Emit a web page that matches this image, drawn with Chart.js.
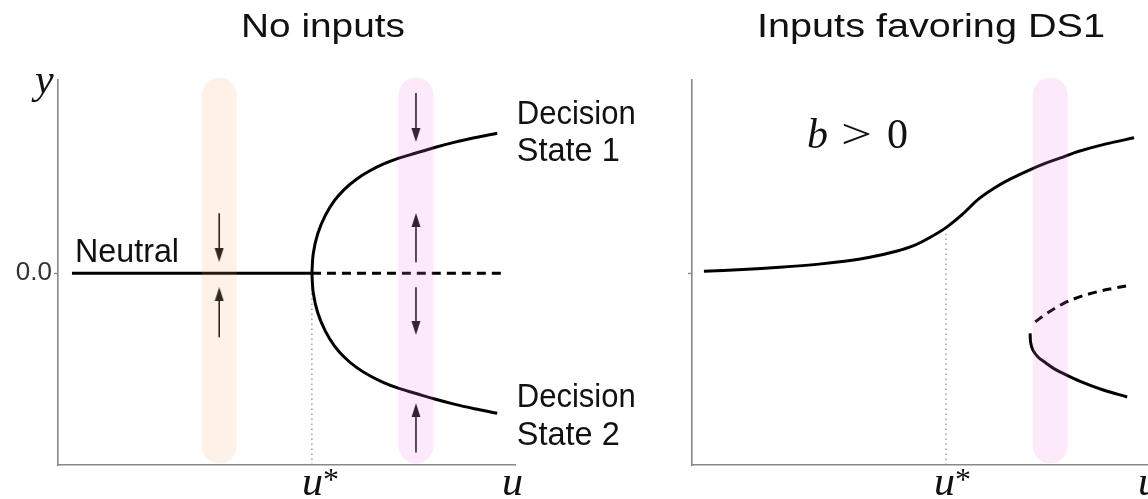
<!DOCTYPE html>
<html>
<head>
<meta charset="utf-8">
<script src="https://cdn.jsdelivr.net/npm/chart.js@4.4.1/dist/chart.umd.min.js"></script>
<style>
  html, body { margin: 0; padding: 0; background: #fff; }
  #wrap { position: relative; width: 1148px; height: 499px; overflow: hidden; }
  canvas { position: absolute; top: 0; }
  #left { left: 0; }
  #right { left: 640px; }
</style>
</head>
<body>
<div id="wrap">
  <canvas id="left" width="640" height="499"></canvas>
  <canvas id="right" width="508" height="499"></canvas>
</div>
<script>
// bifurcation parameter u (u* = 1), decision state y
var U_STAR = 1.0;
var Y_MIN = -1.26, Y_MAX = 1.27;

// no inputs: symmetric pitchfork
var neutralU = [0.055, 1.0];
var neutralY = [0, 0];
var unstableU = [1.0, 1.76];
var unstableY = [0, 0];
var branchU = [1.0, 1.0055, 1.023, 1.053, 1.09, 1.13, 1.177, 1.23, 1.285, 1.34, 1.41, 1.48, 1.56, 1.64, 1.73];
var branchY = [0, 0.13, 0.26, 0.38, 0.48, 0.555, 0.62, 0.675, 0.72, 0.755, 0.79, 0.825, 0.86, 0.89, 0.92];

// inputs favoring DS1: unfolded pitchfork
var ds1U = [0.047, 0.2, 0.345, 0.5, 0.608, 0.7, 0.804, 0.87, 0.933, 1.0, 1.063, 1.13, 1.2, 1.26, 1.33, 1.39, 1.46, 1.52, 1.63, 1.74];
var ds1Y = [0.013, 0.025, 0.04, 0.06, 0.08, 0.105, 0.145, 0.18, 0.232, 0.3, 0.385, 0.49, 0.57, 0.625, 0.68, 0.722, 0.763, 0.8, 0.85, 0.89];
var saddleU = [1.351, 1.397, 1.463, 1.528, 1.594, 1.659, 1.725];
var saddleY = [-0.319, -0.263, -0.198, -0.154, -0.122, -0.099, -0.078];
var ds2U = [1.331, 1.333, 1.342, 1.362, 1.392, 1.423, 1.457, 1.528, 1.619, 1.713];
var ds2Y = [-0.395, -0.455, -0.505, -0.55, -0.588, -0.625, -0.655, -0.71, -0.767, -0.813];

// shaded slices of u
var bandLowU = 0.635;
var bandHighU = 1.41;
var bandY = [-1.135, 1.17];

// flow arrows on each slice: [tail, head]
var arrowsLow = [[0.395, 0.12], [-0.421, -0.137]];
var arrowsHigh = [[1.184, 0.908], [0.072, 0.35], [-0.092, -0.36], [-1.178, -0.9]];

function pts(xs, ys) {
    return xs.map(function(x, i) { return {x: x, y: ys[i]}; });
}

// small filled arrowhead, pointing up
var head = (function() {
    var c = document.createElement('canvas');
    c.width = 10;
    c.height = 14;
    var g = c.getContext('2d');
    g.fillStyle = '#111';
    g.beginPath();
    g.moveTo(5, 0);
    g.lineTo(9.5, 14);
    g.lineTo(0.5, 14);
    g.closePath();
    g.fill();
    return c;
})();

function curve(data, dashed) {
    return {
        data: data,
        borderColor: '#000',
        borderWidth: 3,
        borderDash: dashed ? [9, 6] : [],
        pointRadius: 0,
        tension: 0.35,
        order: 2
    };
}

function band(u, color) {
    return {
        data: pts([u, u], bandY),
        borderColor: color,
        borderWidth: 35,
        borderCapStyle: 'round',
        pointRadius: 0,
        clip: false,
        order: 0
    };
}

function arrow(u, a) {
    var down = a[1] < a[0];
    return {
        data: pts([u, u], a),
        borderColor: '#111',
        borderWidth: 1.6,
        pointStyle: ['circle', head],
        pointRadius: [0, 5],
        pointRotation: down ? 180 : 0,
        order: 1
    };
}

function dotted(yTop) {
    return {
        data: pts([U_STAR, U_STAR], [Y_MIN, yTop]),
        borderColor: '#888',
        borderWidth: 1.2,
        borderDash: [1.5, 3.5],
        pointRadius: 0,
        order: 3
    };
}

function scales(xMax, axisWidth, zeroLabel) {
    return {
        x: {
            type: 'linear', min: 0, max: xMax,
            ticks: {display: false},
            grid: {display: false},
            border: {display: true, color: '#888', width: 1.6},
            afterFit: function(s) { s.height = 34; }
        },
        y: {
            type: 'linear', min: Y_MIN, max: Y_MAX,
            afterBuildTicks: function(s) { s.ticks = [{value: 0}]; },
            ticks: {
                callback: function() { return zeroLabel; },
                font: {family: 'Liberation Sans', size: 26},
                color: '#333',
                padding: 2
            },
            grid: {drawOnChartArea: false, drawTicks: true, tickLength: 4, tickWidth: 1.4, color: '#888'},
            border: {display: true, color: '#888', width: 1.6},
            afterFit: function(s) { s.width = axisWidth; }
        }
    };
}

// sans text squeezed to a given width
function fitText(ctx, text, x, y, size, width) {
    ctx.save();
    ctx.font = size + 'px "Liberation Sans", sans-serif';
    ctx.fillStyle = '#111';
    ctx.textBaseline = 'alphabetic';
    var w = ctx.measureText(text).width;
    ctx.translate(x, y);
    ctx.scale(width / w, 1);
    ctx.fillText(text, 0, 0);
    ctx.restore();
}

function mathItalic(ctx, text, x, y, size) {
    ctx.save();
    ctx.font = 'italic ' + size + 'px "Liberation Serif", serif';
    ctx.fillStyle = '#111';
    ctx.textBaseline = 'alphabetic';
    ctx.fillText(text, x, y);
    var w = ctx.measureText(text).width;
    ctx.restore();
    return w;
}

function mathRoman(ctx, text, x, y, size, width) {
    ctx.save();
    ctx.font = size + 'px "Liberation Serif", serif';
    ctx.fillStyle = '#111';
    var w = ctx.measureText(text).width;
    ctx.translate(x, y);
    if (width) ctx.scale(width / w, 1);
    ctx.fillText(text, 0, 0);
    ctx.restore();
}

function uStarLabel(ctx, x) {
    var w = mathItalic(ctx, 'u', x, 495, 42);
    mathRoman(ctx, '*', x + w, 490, 32);
}

var leftLabels = {
    id: 'leftLabels',
    afterDraw: function(chart) {
        var ctx = chart.ctx, sx = chart.scales.x, sy = chart.scales.y;
        fitText(ctx, 'No inputs', 241, 37, 34, 164);
        fitText(ctx, 'Neutral', sx.getPixelForValue(0.067), sy.getPixelForValue(0.072), 34, 104);
        var lx = sx.getPixelForValue(1.807);
        fitText(ctx, 'Decision', lx, sy.getPixelForValue(0.98), 34, 119);
        fitText(ctx, 'State 1', lx, sy.getPixelForValue(0.737), 34, 103);
        fitText(ctx, 'Decision', lx, sy.getPixelForValue(-0.88), 34, 119);
        fitText(ctx, 'State 2', lx, sy.getPixelForValue(-1.13), 34, 103);
        mathItalic(ctx, 'y', 35, 93, 42);
        uStarLabel(ctx, sx.getPixelForValue(U_STAR) - 10);
        mathItalic(ctx, 'u', chart.chartArea.right - 13, 495, 42);
    }
};

var rightLabels = {
    id: 'rightLabels',
    afterDraw: function(chart) {
        var ctx = chart.ctx, sx = chart.scales.x, sy = chart.scales.y;
        fitText(ctx, 'Inputs favoring DS1', 117, 37, 34, 348);
        var bx = sx.getPixelForValue(0.453), by = sy.getPixelForValue(0.82);
        mathItalic(ctx, 'b', bx, by, 42);
        mathRoman(ctx, '>', bx + 34, by, 42, 31);
        mathRoman(ctx, '0', bx + 80, by, 42);
        uStarLabel(ctx, sx.getPixelForValue(U_STAR) - 12);
        mathItalic(ctx, 'u', chart.chartArea.right - 10, 495, 42);
    }
};

function baseOptions(xMax, axisWidth, zeroLabel, padRight) {
    return {
        responsive: false,
        animation: false,
        events: [],
        layout: {padding: {left: 0, right: padRight, top: 80, bottom: 0}},
        plugins: {legend: {display: false}, tooltip: {enabled: false}},
        scales: scales(xMax, axisWidth, zeroLabel)
    };
}

var leftSets = [
    band(bandLowU, 'rgba(240, 160, 100, 0.15)'),
    band(bandHighU, 'rgba(238, 130, 238, 0.17)'),
    curve(pts(neutralU, neutralY), false),
    curve(pts(unstableU, unstableY), true),
    curve(pts(branchU, branchY), false),
    curve(pts(branchU, branchY.map(function(v) { return -v; })), false),
    dotted(0)
];
arrowsLow.forEach(function(a) { leftSets.push(arrow(bandLowU, a)); });
arrowsHigh.forEach(function(a) { leftSets.push(arrow(bandHighU, a)); });

new Chart(document.getElementById('left'), {
    type: 'line',
    data: {datasets: leftSets},
    options: baseOptions(1.8, 58, '0.0', 125),
    plugins: [leftLabels]
});

var rightSets = [
    band(bandHighU, 'rgba(238, 130, 238, 0.17)'),
    curve(pts(ds1U, ds1Y), false),
    curve(pts(saddleU, saddleY), true),
    curve(pts(ds2U, ds2Y), false),
    dotted(0.26)
];

new Chart(document.getElementById('right'), {
    type: 'line',
    data: {datasets: rightSets},
    options: baseOptions(1.795, 52, '', 0),
    plugins: [rightLabels]
});
</script>
</body>
</html>
